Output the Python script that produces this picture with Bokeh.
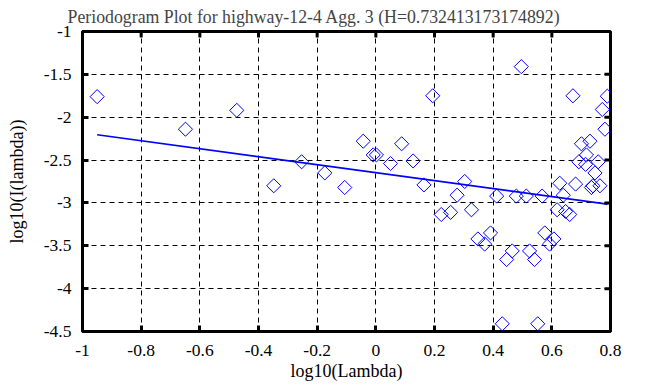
import numpy as np
from bokeh.plotting import figure
from bokeh.models import Range1d, FixedTicker, CustomJSTickFormatter
from bokeh.embed import file_html
from bokeh.resources import INLINE

# periodogram points (log10 lambda, log10 I(lambda))
log_lambda = [-0.950, -0.649, -0.474, -0.348, -0.253, -0.174, -0.106, -0.043, -0.009,
              0.002, 0.050, 0.088, 0.127, 0.164, 0.194, 0.223, 0.255, 0.277, 0.303,
              0.326, 0.348, 0.371, 0.391, 0.412, 0.431, 0.446, 0.465, 0.479, 0.496,
              0.513, 0.524, 0.541, 0.552, 0.567, 0.576, 0.592, 0.607, 0.618, 0.627,
              0.639, 0.647, 0.661, 0.672, 0.681, 0.692, 0.701, 0.715, 0.718, 0.730,
              0.735, 0.740, 0.747, 0.758, 0.764, 0.772, 0.781, 0.789]
log_I = [-1.76, -2.14, -1.92, -2.80, -2.52, -2.65, -2.82, -2.28, -2.44,
         -2.44, -2.54, -2.31, -2.51, -2.79, -1.75, -3.135, -3.11, -2.91, -2.75,
         -3.08, -3.42, -3.48, -3.35, -2.92, -4.41, -3.66, -3.56, -2.92, -1.41,
         -2.92, -3.56, -3.66, -4.41, -2.92, -3.35, -3.48, -3.42, -3.08, -2.77,
         -2.91, -3.10, -3.135, -1.75, -2.78, -2.52, -2.31, -2.55, -2.44, -2.28,
         -2.82, -2.80, -2.65, -2.52, -2.80, -1.91, -2.14, -1.755]

H = 0.732413173174892
fit_slope = 1 - 2 * H
fit_intercept = -2.647

title_text = "Periodogram Plot for highway-12-4 Agg. 3 (H=0.732413173174892)"
x_ticks = [-1, -0.8, -0.6, -0.4, -0.2, 0, 0.2, 0.4, 0.6, 0.8]
y_ticks = [-4.5, -4, -3.5, -3, -2.5, -2, -1.5, -1]
x_min, x_max = -1, 0.8
y_min, y_max = -4.5, -1

FONT = "Liberation Serif"
W, Hpx = 663, 387
BL, BR, BT, BB = 82, 53, 31, 56

p = figure(width=W, height=Hpx, output_backend="svg", toolbar_location=None,
           x_range=Range1d(x_min, x_max), y_range=Range1d(y_min, y_max),
           min_border_left=BL, min_border_right=BR, min_border_top=BT,
           min_border_bottom=BB)

p.title.text = title_text
p.title.text_font = FONT
p.title.text_font_size = "17.8px"
p.title.text_font_style = "normal"
p.title.align = "left"
p.title.standoff = 9
p.title.offset = -15

p.background_fill_color = "white"
p.border_fill_color = "white"
p.outline_line_color = "black"
p.outline_line_width = 3

fx = np.array([min(log_lambda), max(log_lambda)])
p.line(fx, fit_intercept + fit_slope * fx, line_color="#0000ff", line_width=1.6)

p.scatter(log_lambda, log_I, marker="square", angle=np.pi / 4, size=10,
          line_color="#0000ff", fill_color=None, line_width=1)

fmt = CustomJSTickFormatter(code="return tick.toString();")
for ax in (p.xaxis[0], p.yaxis[0]):
    ax.axis_line_color = None
    ax.major_tick_in = 6
    ax.major_tick_out = 0
    ax.major_tick_line_width = 3
    ax.minor_tick_line_color = None
    ax.formatter = fmt
    ax.major_label_text_font = FONT
    ax.major_label_text_font_size = "17.5px"
    ax.major_label_text_color = "black"
    ax.axis_label_text_font = FONT
    ax.axis_label_text_font_size = "18px"
    ax.axis_label_text_font_style = "normal"
    ax.axis_label_text_color = "black"

p.xaxis[0].ticker = FixedTicker(ticks=x_ticks)
p.yaxis[0].ticker = FixedTicker(ticks=y_ticks)
p.xaxis[0].axis_label = "log10(Lambda)"
p.yaxis[0].axis_label = "log10(I(lambda))"
p.xaxis[0].major_label_standoff = 13
p.yaxis[0].major_label_standoff = 11
p.xaxis[0].axis_label_standoff = 2
p.yaxis[0].axis_label_standoff = 14

# inward ticks on top and right edges of the frame
tick_dy = 6 * (y_max - y_min) / (Hpx - BT - BB)
tick_dx = 6 * (x_max - x_min) / (W - BL - BR)
p.segment(x0=x_ticks, y0=[y_max] * len(x_ticks), x1=x_ticks,
          y1=[y_max - tick_dy] * len(x_ticks), line_color="black", line_width=3)
p.segment(x0=[x_max] * len(y_ticks), y0=y_ticks, x1=[x_max - tick_dx] * len(y_ticks),
          y1=y_ticks, line_color="black", line_width=3)

for g, t in ((p.xgrid[0], x_ticks), (p.ygrid[0], y_ticks)):
    g.ticker = FixedTicker(ticks=t)
    g.grid_line_color = "black"
    g.grid_line_dash = "5 4"
    g.grid_line_width = 1
    g.grid_line_alpha = 1

open("out.html", "w").write(file_html(p, INLINE))
